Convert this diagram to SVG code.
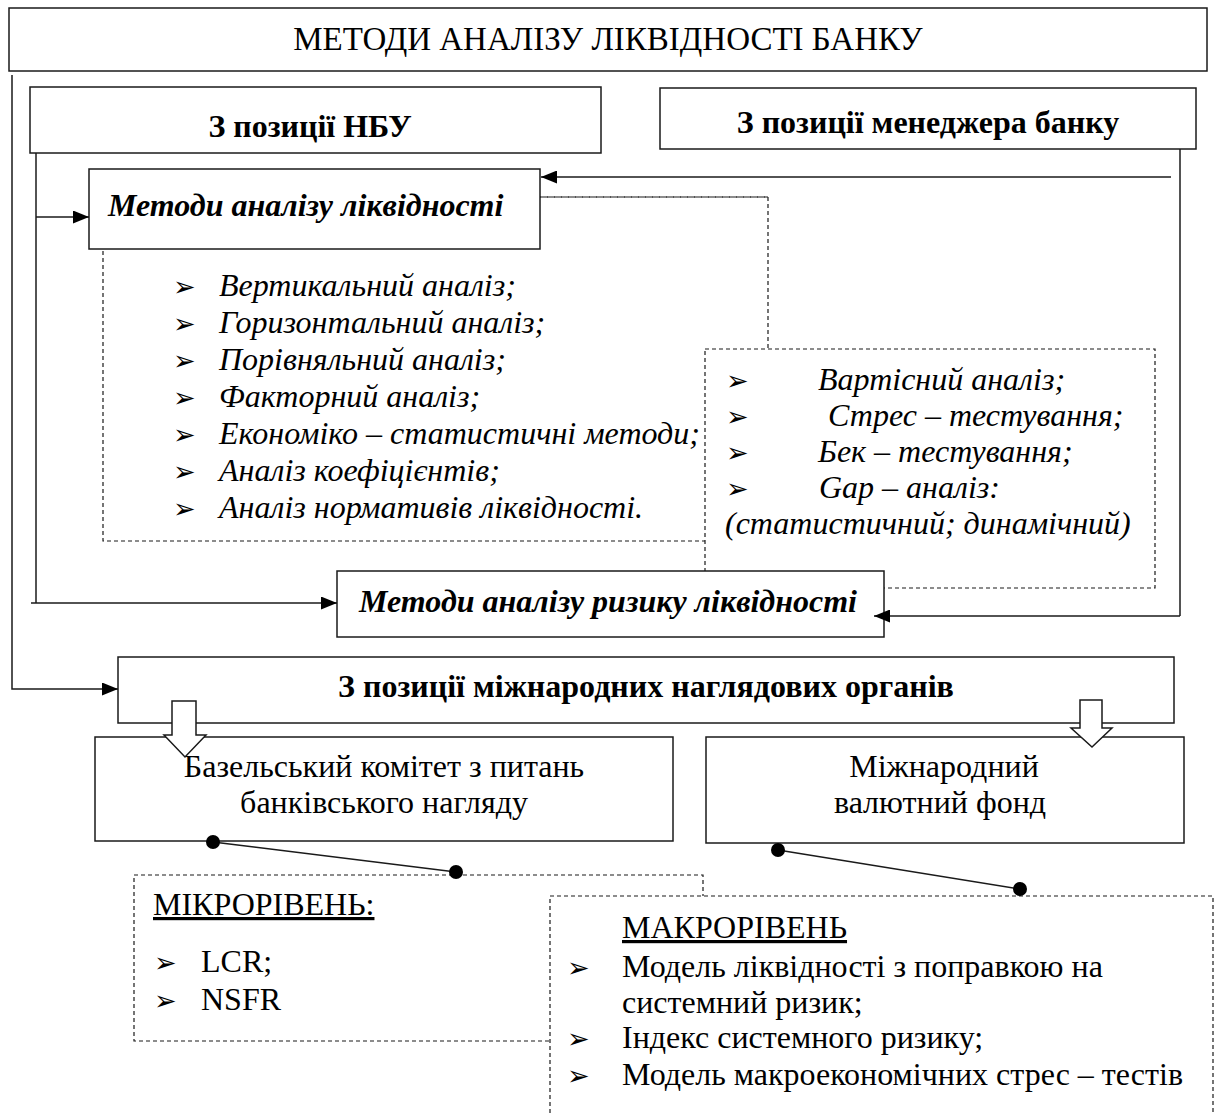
<svg xmlns="http://www.w3.org/2000/svg" width="1215" height="1115" viewBox="0 0 1215 1115" font-family="Liberation Serif, serif">
<defs>
<style>
.box{fill:#fff;stroke:#1a1a1a;stroke-width:1.5}
.dash{fill:#fff;stroke:#1a1a1a;stroke-width:1.2;stroke-dasharray:4 3}
.ln{fill:none;stroke:#1a1a1a;stroke-width:1.5}
.t{font-family:'Liberation Serif', serif;font-size:32px;fill:#000}
.b{font-weight:bold}
.i{font-style:italic}
.bul{font-family:'DejaVu Sans', sans-serif;font-size:27px;fill:#000}
.hol{fill:#fff;stroke:#1a1a1a;stroke-width:1.5}
</style>
<marker id="ah" viewBox="0 0 16 13" refX="16" refY="6.5" markerWidth="16" markerHeight="13" markerUnits="userSpaceOnUse" orient="auto">
<path d="M0,0 L16,6.5 L0,13 Z" fill="#000"/>
</marker>
</defs>

<g id="list-liquidity">
<rect class="dash" x="103" y="197" width="665" height="344"/>
<text class="bul" x="173" y="296">➢</text><text class="t i" x="219" y="296">Вертикальний аналіз;</text>
<text class="bul" x="173" y="333">➢</text><text class="t i" x="219" y="333">Горизонтальний аналіз;</text>
<text class="bul" x="173" y="370">➢</text><text class="t i" x="219" y="370">Порівняльний аналіз;</text>
<text class="bul" x="173" y="407">➢</text><text class="t i" x="219" y="407">Факторний аналіз;</text>
<text class="bul" x="173" y="444">➢</text><text class="t i" x="219" y="444">Економіко – статистичні методи;</text>
<text class="bul" x="173" y="481">➢</text><text class="t i" x="219" y="481">Аналіз коефіцієнтів;</text>
<text class="bul" x="173" y="518">➢</text><text class="t i" x="219" y="518">Аналіз нормативів ліквідності.</text>
</g>

<g id="list-risk">
<rect class="dash" x="705" y="349" width="450" height="239"/>
<text class="bul" x="726" y="390">➢</text><text class="t i" x="818" y="390">Вартісний аналіз;</text>
<text class="bul" x="726" y="426">➢</text><text class="t i" x="828" y="426">Стрес – тестування;</text>
<text class="bul" x="726" y="462">➢</text><text class="t i" x="818" y="462">Бек – тестування;</text>
<text class="bul" x="726" y="498">➢</text><text class="t i" x="819" y="498">Gap – аналіз:</text>
<text class="t i" x="725" y="534">(статистичний; динамічний)</text>
</g>

<g id="title">
<rect class="box" x="9" y="8" width="1198" height="63"/>
<text class="t" x="608" y="50" text-anchor="middle" style="font-size:33px">МЕТОДИ АНАЛІЗУ ЛІКВІДНОСТІ БАНКУ</text>
</g>

<g id="nbu">
<rect class="box" x="30" y="87" width="571" height="66"/>
<text class="t b" x="310" y="137" text-anchor="middle">З позиції НБУ</text>
</g>

<g id="manager">
<rect class="box" x="660" y="88" width="536" height="61"/>
<text class="t b" x="928" y="133" text-anchor="middle">З позиції менеджера банку</text>
</g>

<g id="methods-liquidity">
<rect class="box" x="89" y="169" width="451" height="80"/>
<text class="t b i" x="108" y="216">Методи аналізу ліквідності</text>
</g>

<g id="methods-risk">
<rect class="box" x="337" y="571" width="547" height="66"/>
<text class="t b i" x="608" y="612" text-anchor="middle">Методи аналізу ризику ліквідності</text>
</g>

<g id="international">
<rect class="box" x="118" y="657" width="1056" height="66"/>
<text class="t b" x="646" y="697" text-anchor="middle">З позиції міжнародних наглядових органів</text>
</g>

<g id="basel">
<rect class="box" x="95" y="737" width="578" height="104"/>
<text class="t" x="384" y="777" text-anchor="middle">Базельський комітет з питань</text>
<text class="t" x="384" y="813" text-anchor="middle">банківського нагляду</text>
</g>

<g id="imf">
<rect class="box" x="706" y="737" width="478" height="106"/>
<text class="t" x="944" y="777" text-anchor="middle">Міжнародний</text>
<text class="t" x="940" y="813" text-anchor="middle">валютний фонд</text>
</g>

<g id="micro">
<rect class="dash" x="134" y="875" width="569" height="166"/>
<text class="t" x="153" y="915" text-decoration="underline">МІКРОРІВЕНЬ:</text>
<text class="bul" x="154" y="972">➢</text><text class="t" x="201" y="972">LCR;</text>
<text class="bul" x="154" y="1010">➢</text><text class="t" x="201" y="1010">NSFR</text>
</g>

<g id="macro">
<rect class="dash" x="550" y="896" width="663" height="240"/>
<text class="t" x="622" y="938" text-decoration="underline">МАКРОРІВЕНЬ</text>
<text class="bul" x="567" y="977">➢</text><text class="t" x="622" y="977">Модель ліквідності з поправкою на</text>
<text class="t" x="622" y="1013">системний ризик;</text>
<text class="bul" x="567" y="1048">➢</text><text class="t" x="622" y="1048">Індекс системного ризику;</text>
<text class="bul" x="567" y="1085">➢</text><text class="t" x="622" y="1085">Модель макроекономічних стрес – тестів</text>
</g>

<g id="connectors">
<polyline class="ln" points="12,75 12,689 118,689" marker-end="url(#ah)"/>
<line class="ln" x1="36" y1="153" x2="36" y2="603"/>
<line class="ln" x1="36" y1="217" x2="89" y2="217" marker-end="url(#ah)"/>
<line class="ln" x1="31" y1="603" x2="337" y2="603" marker-end="url(#ah)"/>
<line class="ln" x1="1180" y1="149" x2="1180" y2="616"/>
<line class="ln" x1="1171" y1="177" x2="541" y2="177" marker-end="url(#ah)"/>
<line class="ln" x1="1180" y1="616" x2="874" y2="616" marker-end="url(#ah)"/>
<line class="ln" x1="540" y1="197" x2="768" y2="197" style="stroke-dasharray:4 3;stroke-width:1.2"/>
<polygon class="hol" points="172,701 196,701 196,735 206,735 185,757 164,735 172,735"/>
<polygon class="hol" points="1080,700 1102,700 1102,728 1112,728 1092,747 1071,728 1080,728"/>
<line class="ln" x1="213" y1="842" x2="456" y2="872"/>
<circle cx="213" cy="842" r="7" fill="#000"/>
<circle cx="456" cy="872" r="7" fill="#000"/>
<line class="ln" x1="778" y1="850" x2="1020" y2="889"/>
<circle cx="778" cy="850" r="7" fill="#000"/>
<circle cx="1020" cy="889" r="7" fill="#000"/>
</g>
</svg>
